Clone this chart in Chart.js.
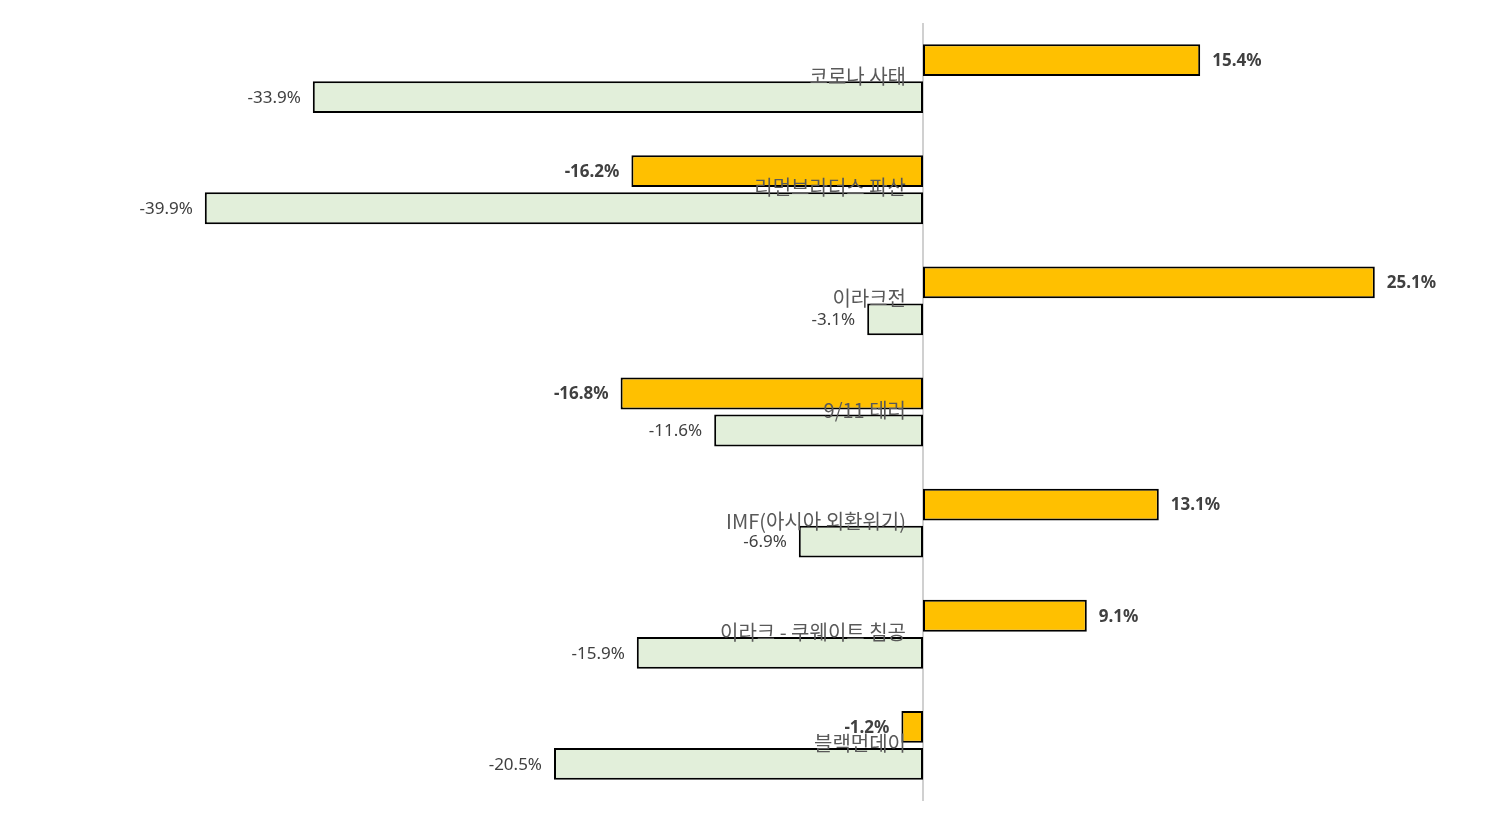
<!DOCTYPE html>
<html>
<head>
<meta charset="utf-8">
<script src="https://cdn.jsdelivr.net/npm/chart.js@4.4.1/dist/chart.umd.min.js"></script>
<style>
  html, body { margin: 0; padding: 0; background: #ffffff; }
  #wrap { width: 1486px; height: 825px; position: relative; }
</style>
</head>
<body>
<div id="wrap"><canvas id="c" width="1486" height="825"></canvas></div>
<script>
const categories = ['코로나 사태', '리먼브라더스 파산', '이라크전', '9/11 테러', 'IMF(아시아 외환위기)', '이라크 - 쿠웨이트 침공', '블랙먼데이'];
const seriesA = [15.4, -16.2, 25.1, -16.8, 13.1, 9.1, -1.2];
const seriesB = [-33.9, -39.9, -3.1, -11.6, -6.9, -15.9, -20.5];
const xMin = -50;
const xMax = 30;

const overlayPlugin = {
  id: 'overlay',
  beforeDatasetsDraw(chart) {
    const ctx = chart.ctx;
    const xs = chart.scales.x;
    const area = chart.chartArea;
    const x0 = xs.getPixelForValue(0);
    ctx.save();
    ctx.strokeStyle = '#d0d0d0';
    ctx.lineWidth = 2;
    ctx.beginPath();
    ctx.moveTo(x0, area.top);
    ctx.lineTo(x0, area.bottom);
    ctx.stroke();
    ctx.restore();
  },
  afterDatasetsDraw(chart) {
    const ctx = chart.ctx;
    const xs = chart.scales.x;
    const ys = chart.scales.y;
    const x0 = xs.getPixelForValue(0);
    ctx.save();
    chart.data.datasets.forEach((ds, di) => {
      const meta = chart.getDatasetMeta(di);
      meta.data.forEach((bar, i) => {
        const v = ds.data[i];
        const txt = v.toFixed(1) + '%';
        ctx.font = (di === 0 ? 'bold ' : '') + '17px "Noto Sans", "Open Sans", sans-serif';
        ctx.fillStyle = '#404040';
        ctx.textBaseline = 'middle';
        if (v >= 0) {
          ctx.textAlign = 'left';
          ctx.fillText(txt, bar.x + 12, bar.y + 1);
        } else {
          ctx.textAlign = 'right';
          ctx.fillText(txt, bar.x - 12, bar.y + 1);
        }
      });
    });
    ctx.font = '20px "Noto Sans CJK KR", "Noto Sans", sans-serif';
    ctx.fillStyle = '#595959';
    ctx.textAlign = 'right';
    ctx.textBaseline = 'middle';
    categories.forEach((c, i) => {
      const y = ys.getPixelForValue(i);
      ctx.fillText(c, x0 - 17, y - 2);
    });
    ctx.restore();
  }
};

new Chart(document.getElementById('c'), {
  type: 'bar',
  data: {
    labels: categories,
    datasets: [
      {
        label: 'A',
        data: seriesA,
        backgroundColor: '#FFC000',
        borderColor: '#000000',
        borderWidth: 2,
        borderSkipped: false,
        categoryPercentage: 0.666,
        barPercentage: 0.86
      },
      {
        label: 'B',
        data: seriesB,
        backgroundColor: '#E2EFDA',
        borderColor: '#000000',
        borderWidth: 2,
        borderSkipped: false,
        categoryPercentage: 0.666,
        barPercentage: 0.86
      }
    ]
  },
  options: {
    indexAxis: 'y',
    responsive: false,
    animation: false,
    layout: { padding: { left: 23, right: 23, top: 23, bottom: 24 } },
    plugins: {
      legend: { display: false },
      tooltip: { enabled: false },
      title: { display: false }
    },
    scales: {
      x: { display: false, min: xMin, max: xMax },
      y: { display: false }
    }
  },
  plugins: [overlayPlugin]
});
</script>
</body>
</html>
